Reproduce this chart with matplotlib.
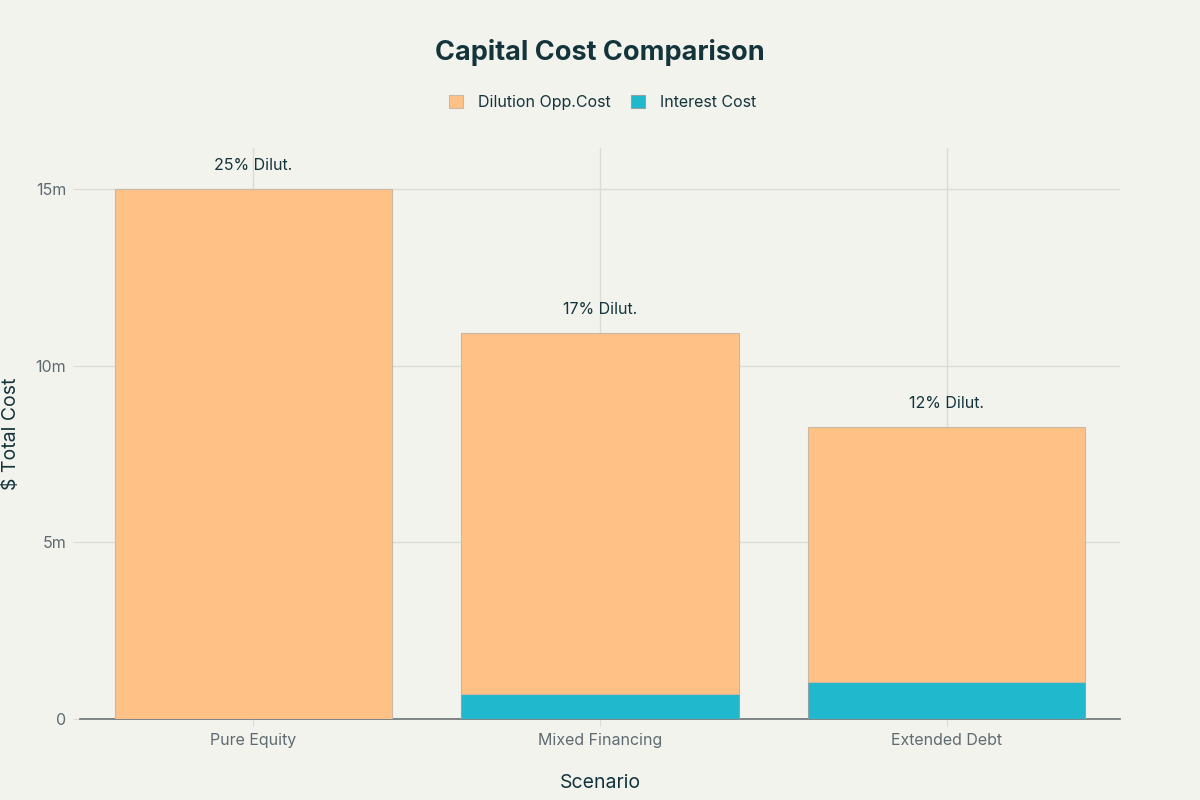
import matplotlib.pyplot as plt
import numpy as np

scenarios = ['Pure Equity', 'Mixed Financing', 'Extended Debt']
interest_cost = [0.0, 0.72, 1.06]
dilution_cost = [15.0, 10.2, 7.2]
dilution_labels = ['25% Dilut.', '17% Dilut.', '12% Dilut.']

plt.rcParams['font.family'] = ['Inter', 'DejaVu Sans']
bg = '#F3F3EE'
fig = plt.figure(figsize=(12, 8), dpi=100, facecolor=bg)
ax = fig.add_axes([0.0667, 0.10125, 0.8667, 0.71375], facecolor=bg)

x = np.arange(len(scenarios))
ax.bar(x, interest_cost, width=0.8, color='#1FB8CD', edgecolor='#8FA3A6',
       linewidth=0.8, label='Interest Cost', zorder=3)
ax.bar(x, dilution_cost, width=0.8, bottom=interest_cost, color='#FFC185',
       edgecolor='#C9B8A4', linewidth=0.8, label='Dilution Opp.Cost', zorder=3)

totals = np.array(interest_cost) + np.array(dilution_cost)
for xi, t, lab in zip(x, totals, dilution_labels):
    ax.text(xi, t + 0.45, lab, ha='center', va='bottom', fontsize=11.5,
            color='#13343B', zorder=4)

ax.set_xlim(-0.5, 2.5)
ax.set_ylim(0, 16.16)
ax.set_yticks([0, 5, 10, 15])
ax.set_yticklabels(['0', '5m', '10m', '15m'])
ax.set_xticks(x)
ax.set_xticklabels(scenarios)
ax.grid(True, color='#DCDCD6', linewidth=1, zorder=0)
for s in ['top', 'right', 'left']:
    ax.spines[s].set_visible(False)
ax.spines['bottom'].set_color('#6B7275')
ax.spines['bottom'].set_linewidth(1.2)
ax.tick_params(axis='both', colors='#5F6B70', labelsize=11.5)
ax.tick_params(axis='y', length=5, color='#DCDCD6', pad=5)
ax.tick_params(axis='x', length=5, color='#DCDCD6', pad=5)

ax.set_xlabel('Scenario', fontsize=14, color='#13343B', labelpad=19)
ax.set_ylabel('$ Total Cost', fontsize=14, color='#13343B')
ax.yaxis.set_label_coords(-0.058, 0.5)

fig.text(0.5, 0.935, 'Capital Cost Comparison', ha='center', va='center',
         fontsize=19.5, fontweight='bold', color='#13343B')

handles, labels = ax.get_legend_handles_labels()
fig.legend(handles[::-1], labels[::-1], loc='center', bbox_to_anchor=(0.502, 0.872),
           ncol=2, frameon=False, fontsize=11.5, handlelength=0.9, handleheight=0.9,
           columnspacing=1.3, handletextpad=0.9, labelcolor='#13343B')

fig.savefig('out.png', dpi=100, facecolor=bg)
